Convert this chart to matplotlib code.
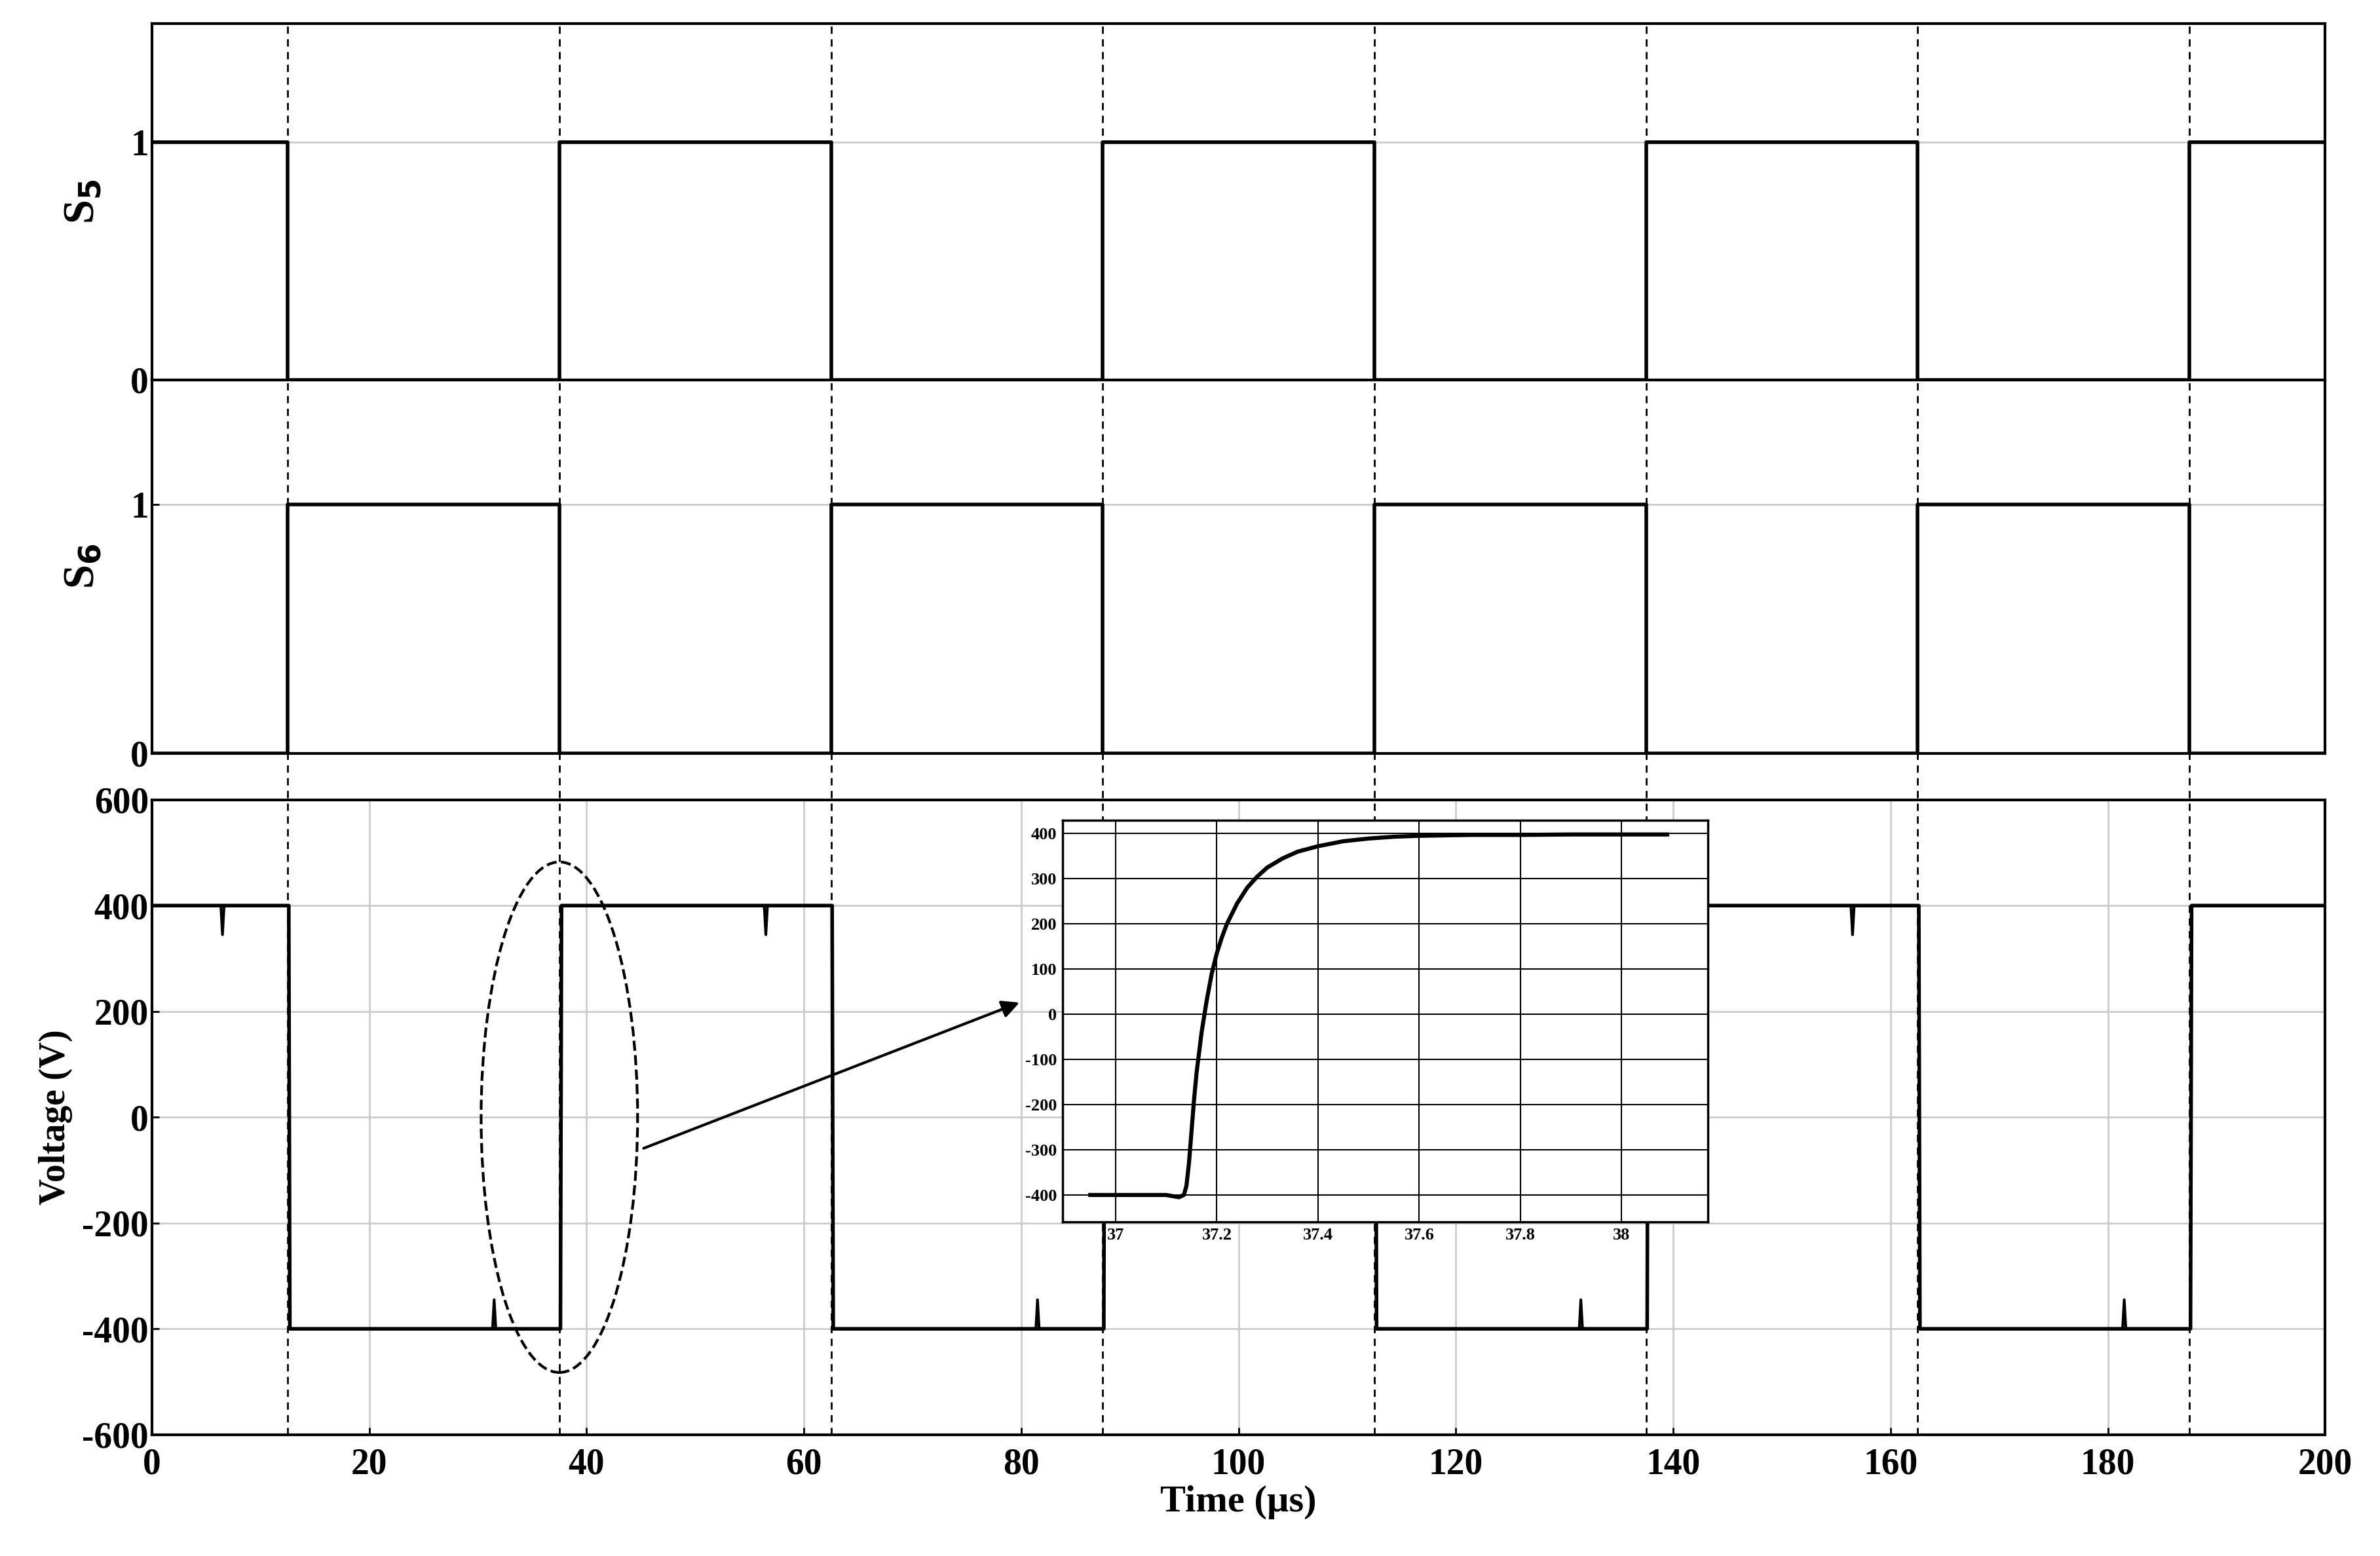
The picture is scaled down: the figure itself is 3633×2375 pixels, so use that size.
import matplotlib
matplotlib.use("Agg")
import matplotlib.pyplot as plt
import numpy as np
from matplotlib.patches import Ellipse

plt.rcParams['font.family'] = ['Liberation Serif', 'DejaVu Serif']
plt.rcParams['font.weight'] = 'bold'
plt.rcParams['axes.unicode_minus'] = False

edges = [12.5, 37.5, 62.5, 87.5, 112.5, 137.5, 162.5, 187.5]
s5_t = [0, 12.5, 12.5, 37.5, 37.5, 62.5, 62.5, 87.5, 87.5, 112.5, 112.5, 137.5, 137.5, 162.5, 162.5, 187.5, 187.5, 200]
s5_v = [1, 1, 0, 0, 1, 1, 0, 0, 1, 1, 0, 0, 1, 1, 0, 0, 1, 1]
s6_v = [0, 0, 1, 1, 0, 0, 1, 1, 0, 0, 1, 1, 0, 0, 1, 1, 0, 0]
v_t = [0, 12.6, 12.7, 37.6, 37.7, 62.6, 62.7, 87.6, 87.7, 112.6, 112.7, 137.6, 137.7, 162.6, 162.7, 187.6, 187.7, 200]
v_v = [400, 400, -400, -400, 400, 400, -400, -400, 400, 400, -400, -400, 400, 400, -400, -400, 400, 400]
spike_t = [6.5, 31.5, 56.5, 81.5, 131.5, 156.5, 181.5]
spike_v = [345, -345, 345, -345, -345, 345, -345]
base_v = [400, -400, 400, -400, -400, 400, -400]
inset_t = [36.95, 37.10, 37.115, 37.125, 37.135, 37.14, 37.145, 37.15, 37.155, 37.16, 37.17, 37.18, 37.19,
           37.20, 37.21, 37.22, 37.24, 37.26, 37.28, 37.30, 37.33, 37.36, 37.40, 37.45, 37.50, 37.55,
           37.60, 37.70, 37.80, 37.90, 38.09]
inset_v = [-400, -400, -403, -405, -400, -380, -330, -260, -190, -130, -40, 30, 90,
           135, 170, 200, 245, 280, 305, 325, 345, 360, 372, 383, 389, 393,
           395, 397, 397, 398, 398]

W, H = 3633, 2375
fig = plt.figure(figsize=(W/100, H/100), dpi=100)
L, R = 0.0638, 0.977
ax1 = fig.add_axes([L, 0.756, R-L, 0.985-0.756])
ax2 = fig.add_axes([L, 0.516, R-L, 0.756-0.516])
ax3 = fig.add_axes([L, 0.078, R-L, 0.486-0.078])
lw = 4.0
tick_fs = 40
for ax in (ax1, ax2, ax3):
    ax.set_xlim(0, 200)
    for s in ax.spines.values():
        s.set_linewidth(3)
    ax.tick_params(labelsize=tick_fs, width=2, length=8, direction='in')

ax1.plot(s5_t, s5_v, color='black', lw=lw)
ax2.plot(s5_t, s6_v, color='black', lw=lw)
for ax, lab in ((ax1, 'S$_\\mathbf{5}$'), (ax2, 'S$_\\mathbf{6}$')):
    ax.set_ylim(0, 1.5)
    ax.set_yticks([0, 1])
    ax.set_xticks([])
    ax.axhline(1, color='#cccccc', lw=2, zorder=0)
    ax.set_ylabel(lab, fontsize=48, fontweight='bold', labelpad=30)

ax3.plot(v_t, v_v, color='black', lw=lw)
for t, v, b in zip(spike_t, spike_v, base_v):
    ax3.plot([t-0.15, t, t+0.15], [b, v, b], color='black', lw=3)
ax3.set_ylim(-600, 600)
ax3.set_yticks(np.arange(-600, 601, 200))
ax3.set_xticks(np.arange(0, 201, 20))
ax3.tick_params(axis='x', pad=14)
ax3.grid(True, color='#cccccc', lw=2)
ax3.set_axisbelow(True)
ax3.set_ylabel('Voltage (V)', fontsize=40, fontweight='bold', labelpad=10)
ax3.set_xlabel('Time (µs)', fontsize=42, fontweight='bold', labelpad=4)

ax3.add_patch(Ellipse((37.5, 0), 14.4, 965, fill=False, ls='--', lw=3, color='black'))
ax3.annotate('', xy=(80, 218), xytext=(45.1, -60),
             arrowprops=dict(arrowstyle='-|>', color='black', lw=3, mutation_scale=40))

ov = fig.add_axes([L, 0.078, R-L, 0.985-0.078])
ov.set_xlim(0, 200); ov.set_ylim(0, 1)
ov.axis('off')
for e in edges:
    ov.axvline(e, color='black', ls=(0, (4, 3)), lw=2)

ins = fig.add_axes([0.4464, 0.2146, 0.7175-0.4464, 0.473-0.2146])
ins.plot(inset_t, inset_v, color='black', lw=4.5)
ins.set_xlim(36.895, 38.17)
ins.set_ylim(-460, 430)
ins.set_xticks([37, 37.2, 37.4, 37.6, 37.8, 38])
ins.set_xticklabels(['37', '37.2', '37.4', '37.6', '37.8', '38'])
ins.set_yticks(np.arange(-400, 401, 100))
ins.grid(True, color='black', lw=1.5)
ins.tick_params(labelsize=19, length=0, pad=6)
for s in ins.spines.values():
    s.set_linewidth(2.5)

fig.savefig('out.png', dpi=100)
